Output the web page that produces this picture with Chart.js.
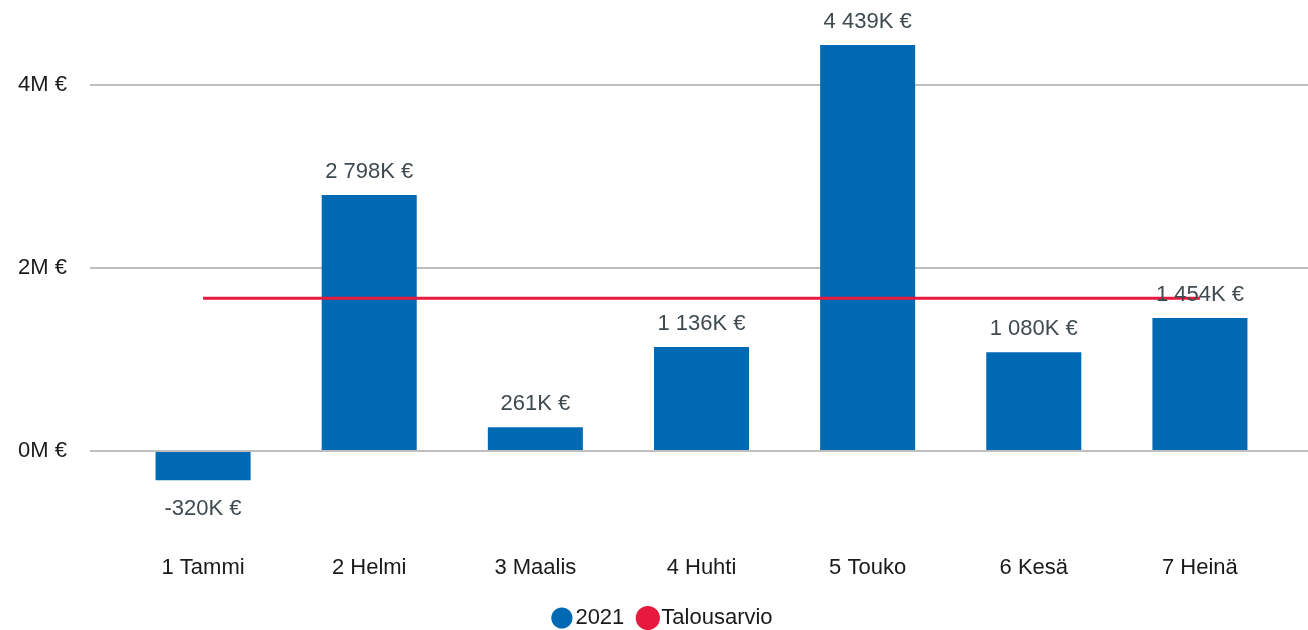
<!DOCTYPE html>
<html>
<head>
  <title>2021 vs Talousarvio</title>
  <script src="https://cdn.jsdelivr.net/npm/chart.js"></script>
  <style>
    body {
      margin: 0;
      background: #fff;
    }
    canvas {
      display: block;
    }
  </style>
</head>
<body>
  <canvas id="resultChart" width="1308" height="630"></canvas>

  <script>
    const months = ['1 Tammi', '2 Helmi', '3 Maalis', '4 Huhti', '5 Touko', '6 Kesä', '7 Heinä'];
    const actual2021 = [-320000, 2798000, 261000, 1136000, 4439000, 1080000, 1454000];
    const budget = [1670000, 1670000, 1670000, 1670000, 1670000, 1670000, 1670000];
    const yTicks = [0, 2000000, 4000000];

    const BLUE = '#0069B4';
    const RED = '#E8193E';
    const GRID = '#BFBFBF';
    const FONT = 'Liberation Sans, Arial, sans-serif';

    // "1 454K €" style, with a plain space as thousands separator
    function fmtK(v) {
      const k = Math.round(v / 1000);
      const s = String(Math.abs(k)).replace(/\B(?=(\d{3})+(?!\d))/g, ' ');
      return (k < 0 ? '-' : '') + s + 'K €';
    }

    const barLabels = {
      id: 'barLabels',
      afterDatasetsDraw(chart) {
        const ctx = chart.ctx;
        const meta = chart.getDatasetMeta(0);
        ctx.save();
        ctx.font = '22px ' + FONT;
        ctx.fillStyle = '#3E4A4F';
        ctx.textAlign = 'center';
        ctx.textBaseline = 'middle';
        meta.data.forEach((bar, i) => {
          const v = actual2021[i];
          const y = v >= 0 ? bar.y - 23 : bar.y + 29;
          ctx.fillText(fmtK(v), bar.x, y);
        });
        ctx.restore();
      }
    };

    Chart.defaults.font.family = FONT;
    Chart.defaults.font.size = 22;
    Chart.defaults.color = '#1a1a1a';

    // the y axes should not reserve room for half a label above the plot
    function noVPad(scale) {
      scale.paddingTop = 0;
      scale.paddingBottom = 0;
    }

    new Chart(document.getElementById('resultChart').getContext('2d'), {
      data: {
        labels: months,
        datasets: [
          {
            type: 'bar',
            label: '2021',
            data: actual2021,
            backgroundColor: BLUE,
            categoryPercentage: 1,
            barPercentage: 0.572,
            order: 1
          },
          {
            type: 'line',
            label: 'Talousarvio',
            data: budget,
            borderColor: RED,
            backgroundColor: RED,
            borderWidth: 3,
            pointRadius: 0,
            fill: false,
            order: 0
          }
        ]
      },
      plugins: [barLabels],
      options: {
        responsive: false,
        animation: false,
        // negative right padding nudges the centred legend right; y2 width makes up for it
        layout: { padding: { top: 0, bottom: -9, right: -24 } },
        plugins: {
          legend: {
            position: 'bottom',
            labels: {
              usePointStyle: true,
              boxHeight: 15,
              boxWidth: 5,
              padding: 21,
              color: '#1a1a1a',
              sort: (a, b) => a.datasetIndex - b.datasetIndex
            }
          },
          tooltip: { enabled: false }
        },
        scales: {
          x: {
            grid: { display: false, drawTicks: false },
            border: { display: false },
            ticks: { padding: 12 },
            afterFit: (scale) => { scale.height = 43.5; }
          },
          y: {
            min: -1000000,
            max: 4930000,
            afterBuildTicks: (scale) => { scale.ticks = yTicks.map(v => ({ value: v })); },
            afterFit: (scale) => { scale.width = 120; noVPad(scale); },
            grid: { color: GRID, lineWidth: 2, tickLength: 30 },
            border: { display: false },
            ticks: {
              padding: 23,
              callback: (v) => (v / 1000000) + 'M €'
            }
          },
          y2: {
            position: 'right',
            min: -1000000,
            max: 4930000,
            afterBuildTicks: (scale) => { scale.ticks = yTicks.map(v => ({ value: v })); },
            afterFit: (scale) => { scale.width = 49; noVPad(scale); },
            grid: { color: GRID, lineWidth: 2, tickLength: 25, drawOnChartArea: false },
            border: { display: false },
            ticks: { display: false }
          }
        }
      }
    });
  </script>
</body>
</html>
